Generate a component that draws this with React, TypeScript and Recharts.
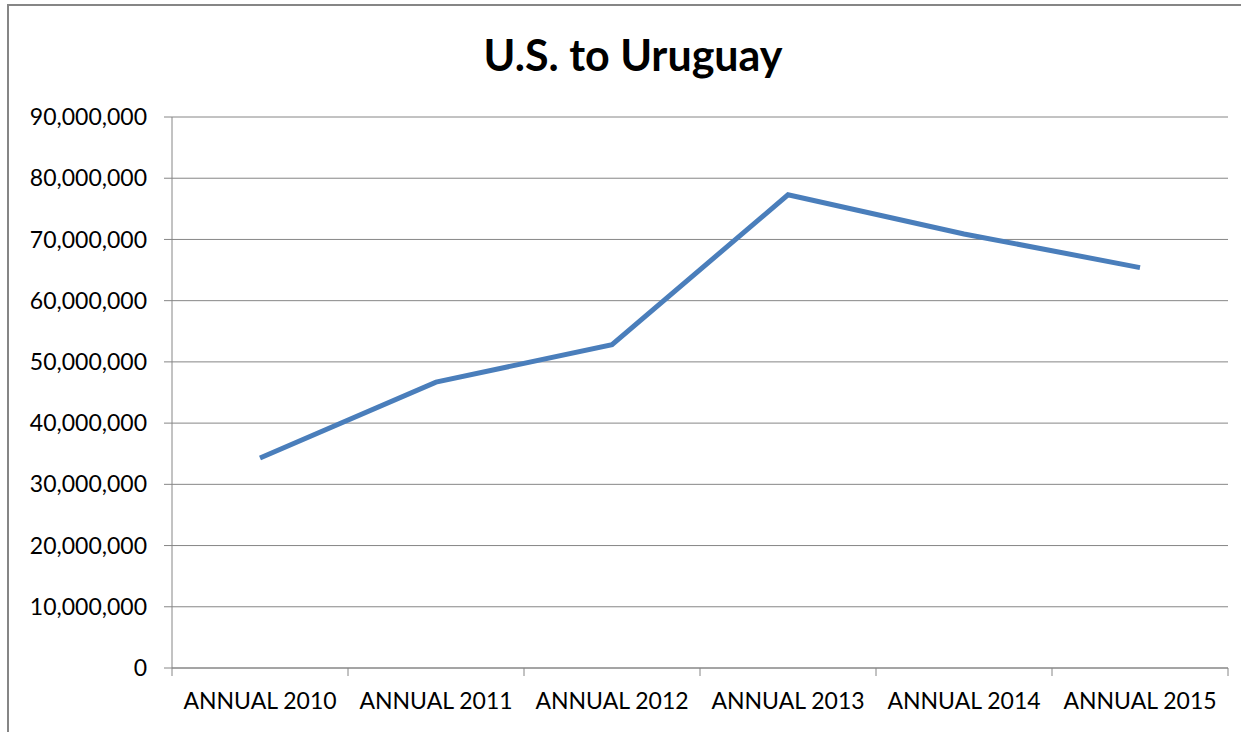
import { CartesianGrid, Line, LineChart, XAxis, YAxis } from "recharts";

const categories = [
  "ANNUAL 2010",
  "ANNUAL 2011",
  "ANNUAL 2012",
  "ANNUAL 2013",
  "ANNUAL 2014",
  "ANNUAL 2015",
];
const values = [34300000, 46700000, 52800000, 77300000, 70900000, 65400000];
const yTicks = [0, 10000000, 20000000, 30000000, 40000000, 50000000, 60000000, 70000000, 80000000, 90000000];
const boundaryTicks = [0, 1, 2, 3, 4, 5, 6];

const W = 1241;
const H = 732;
const margin = { top: 117, right: 13, bottom: 0, left: 0 };
const yAxisW = 172;
const xAxisH = 64;
const gray = "#868686";
const font = "Lato, 'Open Sans', sans-serif";

const data = categories.map((label, i) => ({ label, x: i + 0.5, value: values[i] }));

// half of one category band, in px
const halfBand = (W - margin.left - margin.right - yAxisW) / categories.length / 2;

function CatTick(props: any) {
  const { x, y, payload } = props;
  const label = categories[payload.value];
  if (!label) return null;
  return (
    <text x={x + halfBand} y={y} dy="0.71em" textAnchor="middle" fill="#000" fontSize={23} fontFamily={font}>
      {label}
    </text>
  );
}

export default function App() {
  return (
    <div style={{ position: "absolute", left: 0, top: 0, width: W, height: H, overflow: "hidden", background: "#fff" }}>
      <div
        style={{
          position: "absolute",
          left: 7,
          top: 4,
          width: W,
          height: H,
          borderLeft: `2px solid ${gray}`,
          borderTop: `2px solid ${gray}`,
        }}
      />
      <div
        style={{
          position: "absolute",
          left: 0,
          width: 1266,
          top: 30,
          textAlign: "center",
          fontFamily: font,
          fontWeight: 700,
          fontSize: 43,
          lineHeight: "50px",
          color: "#000",
        }}
      >
        U.S. to Uruguay
      </div>
      <div style={{ position: "absolute", left: 0, top: 0 }}>
        <LineChart width={W} height={H} data={data} margin={margin}>
          <CartesianGrid horizontal vertical={false} stroke={gray} strokeWidth={1} />
          <XAxis
            dataKey="x"
            type="number"
            domain={[0, 6]}
            ticks={boundaryTicks}
            interval={0}
            height={xAxisH}
            stroke={gray}
            tickSize={8}
            tickMargin={17}
            tick={<CatTick />}
          />
          <YAxis
            type="number"
            domain={[0, 90000000]}
            ticks={yTicks}
            interval={0}
            width={yAxisW}
            stroke={gray}
            tickSize={8}
            tickMargin={17}
            tick={{ fill: "#000", fontSize: 23, fontFamily: font }}
            tickFormatter={(v: number) => v.toLocaleString("en-US")}
          />
          <Line
            type="linear"
            dataKey="value"
            stroke="#4a7ebb"
            strokeWidth={5}
            dot={false}
            isAnimationActive={false}
          />
        </LineChart>
      </div>
    </div>
  );
}
